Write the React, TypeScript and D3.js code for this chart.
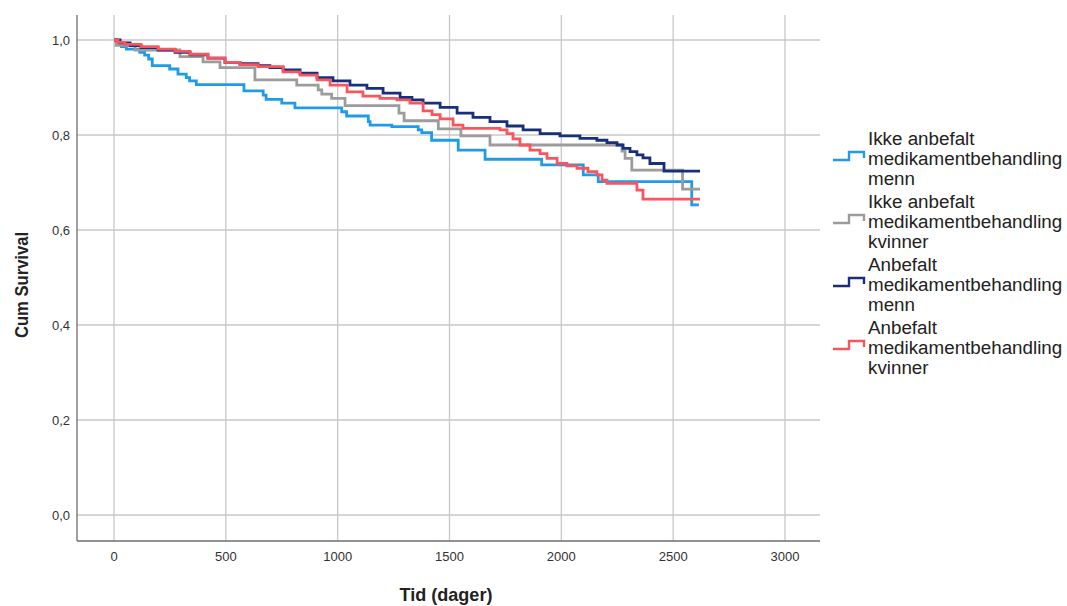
import React from "react";
import * as d3 from "d3";

// ---- Data ----
const seriesNames = [
  ["Ikke anbefalt", "medikamentbehandling", "menn"],
  ["Ikke anbefalt", "medikamentbehandling", "kvinner"],
  ["Anbefalt", "medikamentbehandling", "menn"],
  ["Anbefalt", "medikamentbehandling", "kvinner"],
];
const seriesColors = ["#1f9be8", "#9c9c9c", "#172f7c", "#f8555f"];

const ikkeMennTime = [0, 15, 33, 55, 115, 137, 155, 171, 249, 286, 323, 338, 368, 581, 667, 680, 750, 809, 1018, 1040, 1137, 1145, 1242, 1360, 1376, 1420, 1539, 1659, 1912, 2098, 2165, 2583, 2615];
const ikkeMennSurv = [1.0, 0.993, 0.986, 0.981, 0.974, 0.968, 0.96, 0.946, 0.939, 0.928, 0.921, 0.914, 0.906, 0.893, 0.884, 0.875, 0.867, 0.857, 0.849, 0.84, 0.828, 0.821, 0.8175, 0.811, 0.805, 0.789, 0.768, 0.749, 0.737, 0.716, 0.702, 0.653, 0.653];

const ikkeKvinnerTime = [0, 9, 94, 295, 398, 474, 630, 817, 913, 929, 973, 1033, 1274, 1297, 1450, 1551, 1681, 2271, 2285, 2315, 2542, 2620];
const ikkeKvinnerSurv = [1.0, 0.989, 0.979, 0.965, 0.954, 0.942, 0.916, 0.905, 0.895, 0.886, 0.877, 0.862, 0.846, 0.83, 0.813, 0.798, 0.779, 0.766, 0.751, 0.726, 0.686, 0.686];

const anbMennTime = [0, 27, 72, 121, 197, 273, 340, 420, 496, 563, 644, 697, 756, 832, 908, 979, 1055, 1131, 1203, 1279, 1332, 1382, 1458, 1534, 1605, 1681, 1757, 1829, 1905, 1994, 2083, 2159, 2204, 2249, 2276, 2307, 2338, 2365, 2396, 2459, 2620];
const anbMennSurv = [1.0, 0.994, 0.988, 0.984, 0.979, 0.974, 0.969, 0.962, 0.953, 0.95, 0.946, 0.942, 0.937, 0.93, 0.921, 0.914, 0.905, 0.898, 0.888, 0.879, 0.874, 0.867, 0.858, 0.846, 0.837, 0.828, 0.819, 0.811, 0.803, 0.798, 0.793, 0.789, 0.784, 0.779, 0.772, 0.765, 0.758, 0.752, 0.74, 0.724, 0.724];

const anbKvinnerTime = [0, 18, 49, 121, 197, 273, 340, 420, 496, 563, 644, 756, 832, 908, 966, 1042, 1113, 1189, 1265, 1323, 1382, 1422, 1458, 1516, 1560, 1726, 1757, 1784, 1815, 1860, 1905, 1936, 1981, 2025, 2070, 2119, 2159, 2182, 2204, 2338, 2365, 2620];
const anbKvinnerSurv = [1.0, 0.995, 0.991, 0.986, 0.981, 0.976, 0.97, 0.962, 0.953, 0.948, 0.944, 0.933, 0.926, 0.916, 0.905, 0.891, 0.882, 0.877, 0.874, 0.867, 0.851, 0.843, 0.834, 0.821, 0.814, 0.811, 0.803, 0.792, 0.779, 0.768, 0.761, 0.751, 0.74, 0.735, 0.73, 0.723, 0.716, 0.705, 0.698, 0.684, 0.665, 0.665];

const xTicks = [0, 500, 1000, 1500, 2000, 2500, 3000];
const yTicks = [0, 0.2, 0.4, 0.6, 0.8, 1.0];

const seriesTimes = [ikkeMennTime, ikkeKvinnerTime, anbMennTime, anbKvinnerTime];
const seriesSurv = [ikkeMennSurv, ikkeKvinnerSurv, anbMennSurv, anbKvinnerSurv];

export default function App() {
  const W = 1067, H = 606;
  const plotLeft = 77, plotRight = 820, plotTop = 15, plotBottom = 541;
  const x = d3.scaleLinear().domain([0, 3000]).range([114, 785]);
  const y = d3.scaleLinear().domain([0, 1]).range([515, 40]);
  const line = d3
    .line<[number, number]>()
    .x((d) => x(d[0]))
    .y((d) => y(d[1]))
    .curve(d3.curveStepAfter);
  const fmt = (v: number) => v.toFixed(1).replace(".", ",");
  const font = "'Liberation Sans', Arial, sans-serif";

  return (
    <div style={{ position: "absolute", left: 0, top: 0 }}>
      <svg width={W} height={H} style={{ display: "block", background: "#fff" }}>
        {/* gridlines */}
        {xTicks.map((t) => (
          <line key={"gx" + t} x1={x(t)} x2={x(t)} y1={plotTop} y2={plotBottom} stroke="#c8c8c8" strokeWidth={1.3} />
        ))}
        {yTicks.map((t) => (
          <line key={"gy" + t} x1={plotLeft} x2={plotRight} y1={y(t)} y2={y(t)} stroke="#c8c8c8" strokeWidth={1.3} />
        ))}
        {/* axes */}
        <line x1={plotLeft} x2={plotLeft} y1={plotTop} y2={plotBottom} stroke="#6e6e6e" strokeWidth={1.3} />
        <line x1={plotLeft} x2={plotRight} y1={plotBottom} y2={plotBottom} stroke="#6e6e6e" strokeWidth={1.3} />
        {/* tick labels */}
        {xTicks.map((t) => (
          <text key={"tx" + t} x={x(t)} y={561} textAnchor="middle" fontFamily={font} fontSize={13} fill="#333">
            {t}
          </text>
        ))}
        {yTicks.map((t) => (
          <text key={"ty" + t} x={70} y={y(t) + 4.5} textAnchor="end" fontFamily={font} fontSize={13} fill="#333">
            {fmt(t)}
          </text>
        ))}
        {/* axis titles */}
        <text x={446} y={601} textAnchor="middle" fontFamily={font} fontSize={19} fontWeight="bold" fill="#222"
          transform="translate(446,0) scale(0.95,1) translate(-446,0)">
          Tid (dager)
        </text>
        <text
          transform={`translate(28,285) rotate(-90) scale(0.95,1)`}
          textAnchor="middle"
          fontFamily={font}
          fontSize={17.5}
          fontWeight="bold"
          fill="#222"
        >
          Cum Survival
        </text>
        {/* curves */}
        {seriesTimes.map((times, i) => {
          const pts: [number, number][] = times.map((t, j) => [t, seriesSurv[i][j]]);
          return (
            <path key={"s" + i} d={line(pts) || ""} fill="none" stroke={seriesColors[i]} strokeWidth={2.8} />
          );
        })}
        {/* legend */}
        {seriesNames.map((lines, i) => {
          const base = 145 + i * 63;
          const midY = base + 20 - 6;
          return (
            <g key={"lg" + i}>
              <path
                d={`M833,${midY + 1} H849 V${midY - 7} H864 V${midY - 1}`}
                fill="none"
                stroke={seriesColors[i]}
                strokeWidth={2.4}
              />
              {lines.map((l, k) => (
                <text key={k} x={868} y={base + k * 20} fontFamily={font} fontSize={18.8} fill="#222">
                  {l}
                </text>
              ))}
            </g>
          );
        })}
      </svg>
    </div>
  );
}
